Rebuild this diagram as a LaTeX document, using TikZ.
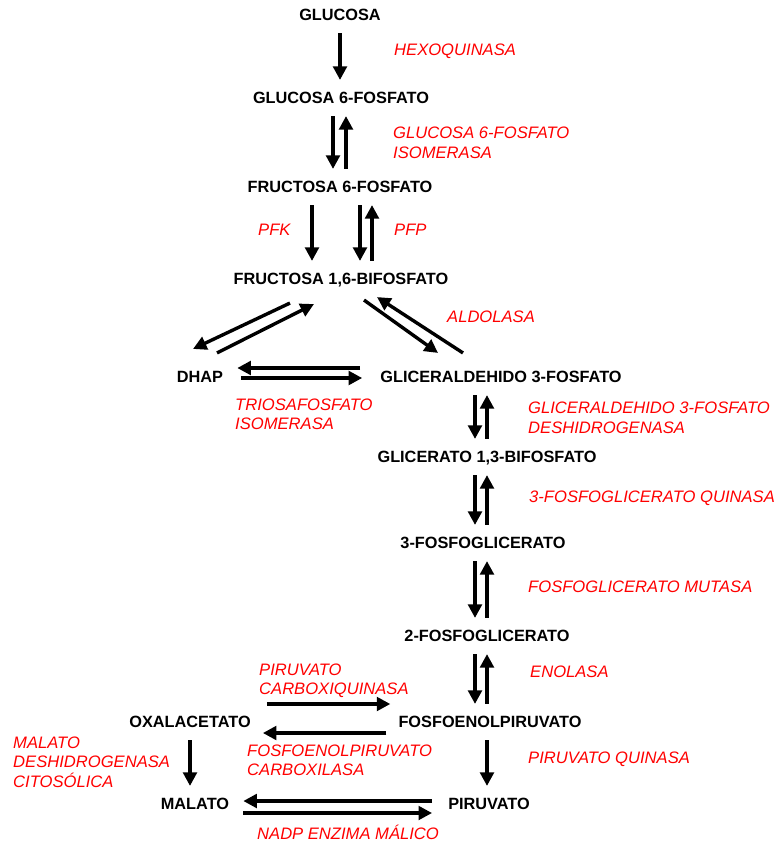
\documentclass[tikz,border=0pt]{standalone}
\usepackage{fontspec}
\setmainfont{Liberation Sans}
\usetikzlibrary{arrows.meta}
\definecolor{enzred}{RGB}{255,0,0}
\begin{document}
\begin{tikzpicture}[x=1pt,y=-1pt,
  met/.style={font=\fontsize{16.3}{19.5}\selectfont\bfseries, text height=11.7pt,
    text depth=0pt, inner xsep=0pt, inner ysep=12pt},
  enz/.style={font=\fontsize{16.6}{19.5}\selectfont\itshape, text=enzred,
    anchor=west, align=left, inner sep=0pt},
  arr/.style={line width=3.4pt, -{Triangle[length=13.5pt,width=13.5pt]}}]
\useasboundingbox[fill=white] (0,0) rectangle (774,841);

% metabolites
\node[met] (glc)  at (340,15)  {GLUCOSA};
\node[met] (g6p)  at (341,98)  {GLUCOSA 6-FOSFATO};
\node[met] (f6p)  at (340,187) {FRUCTOSA 6-FOSFATO};
\node[met] (f16)  at (341,279) {FRUCTOSA 1,6-BIFOSFATO};
\node[met] (dhap) at (200,377) {DHAP};
\node[met] (gap)  at (501,377) {GLICERALDEHIDO 3-FOSFATO};
\node[met] (g13)  at (487,457) {GLICERATO 1,3-BIFOSFATO};
\node[met] (pg3)  at (483,543) {3-FOSFOGLICERATO};
\node[met] (pg2)  at (487,636) {2-FOSFOGLICERATO};
\node[met] (oxa)  at (190,722) {OXALACETATO};
\node[met] (pep)  at (490,722) {FOSFOENOLPIRUVATO};
\node[met] (mal)  at (195,804) {MALATO};
\node[met] (pir)  at (489,804) {PIRUVATO};

% enzymes
\node[enz] (hk)    at (394,51)    {HEXOQUINASA};
\node[enz] (gpi)   at (393,143)   {GLUCOSA 6-FOSFATO\\ISOMERASA};
\node[enz] (pfk)   at (258,230)   {PFK};
\node[enz] (pfp)   at (394,230)   {PFP};
\node[enz] (ald)   at (447,317)   {ALDOLASA};
\node[enz] (tpi)   at (235,414.5) {TRIOSAFOSFATO\\ISOMERASA};
\node[enz] (gapdh) at (528,418)   {GLICERALDEHIDO 3-FOSFATO\\DESHIDROGENASA};
\node[enz] (pgk)   at (529,498)   {3-FOSFOGLICERATO QUINASA};
\node[enz] (pgm)   at (528,587)   {FOSFOGLICERATO MUTASA};
\node[enz] (eno)   at (530,672)   {ENOLASA};
\node[enz] (ppdk)  at (259,681)   {PIRUVATO\\CARBOXIQUINASA};
\node[enz] (pepc)  at (247,760.5) {FOSFOENOLPIRUVATO\\CARBOXILASA};
\node[enz] (mdh)   at (13,762)    {MALATO\\DESHIDROGENASA\\CITOSÓLICA};
\node[enz] (pk)    at (528,759)   {PIRUVATO QUINASA};
\node[enz] (me)    at (257,832)   {NADP ENZIMA MÁLICO};

% upper glycolysis
\draw[arr] (glc.south) -- (glc.south |- g6p.north);
\draw[arr] ([xshift=-8pt]g6p.south) -- ([xshift=-8pt]g6p.south |- f6p.north);
\draw[arr] ([xshift=6pt]f6p.north) -- ([xshift=6pt]f6p.north |- g6p.south);
\draw[arr] ([xshift=-28pt]f6p.south) -- ([xshift=-28pt]f6p.south |- f16.north);
\draw[arr] ([xshift=20pt]f6p.south) -- ([xshift=20pt]f6p.south |- f16.north);
\draw[arr] ([xshift=31pt]f16.north) -- ([xshift=31pt]f16.north |- f6p.south);

% aldolase split
\draw[arr] ([shift={(-51,6)}]f16.south) -- ([shift={(-7,-10)}]dhap.north);
\draw[arr] ([shift={(17,-6)}]dhap.north) -- ([shift={(-27,7)}]f16.south);
\draw[arr] ([shift={(23,3)}]f16.south) -- ([shift={(-63,-6)}]gap.north);
\draw[arr] ([shift={(-38,-6)}]gap.north) -- ([shift={(36,0)}]f16.south);

% triose phosphate isomerase
\draw[arr] ([shift={(-20,-9)}]gap.west) -- ([shift={(14,-9)}]dhap.east);
\draw[arr] ([shift={(18,1)}]dhap.east) -- ([shift={(-18,1)}]gap.west);

% lower glycolysis
\draw[arr] ([xshift=-26pt]gap.south) -- ([xshift=-26pt]gap.south |- g13.north);
\draw[arr] (g13.north) -- (g13.north |- gap.south);
\draw[arr] ([xshift=-12pt]g13.south) -- ([xshift=-12pt]g13.south |- pg3.north);
\draw[arr] ([xshift=4pt]pg3.north) -- ([xshift=4pt]pg3.north |- g13.south);
\draw[arr] ([xshift=-8pt]pg3.south) -- ([xshift=-8pt]pg3.south |- pg2.north);
\draw[arr] (pg2.north) -- (pg2.north |- pg3.south);
\draw[arr] ([xshift=-12pt]pg2.south) -- ([xshift=-12pt]pg2.south |- pep.north);
\draw[arr] ([xshift=-3pt]pep.north) -- ([xshift=-3pt]pep.north |- pg2.south);
\draw[arr] ([xshift=-3pt]pep.south) -- ([xshift=-3pt]pep.south |- pir.north);

% C4 / malate branch
\draw[arr] ([shift={(16,-18)}]oxa.east) -- ([shift={(-8,-18)}]pep.west);
\draw[arr] ([shift={(-12,11)}]pep.west) -- ([shift={(12,11)}]oxa.east);
\draw[arr] (oxa.south) -- (oxa.south |- mal.north);
\draw[arr] ([shift={(-16,-3)}]pir.west) -- ([shift={(14,-3)}]mal.east);
\draw[arr] ([shift={(14,9)}]mal.east) -- ([shift={(-16,9)}]pir.west);
\end{tikzpicture}
\end{document}
